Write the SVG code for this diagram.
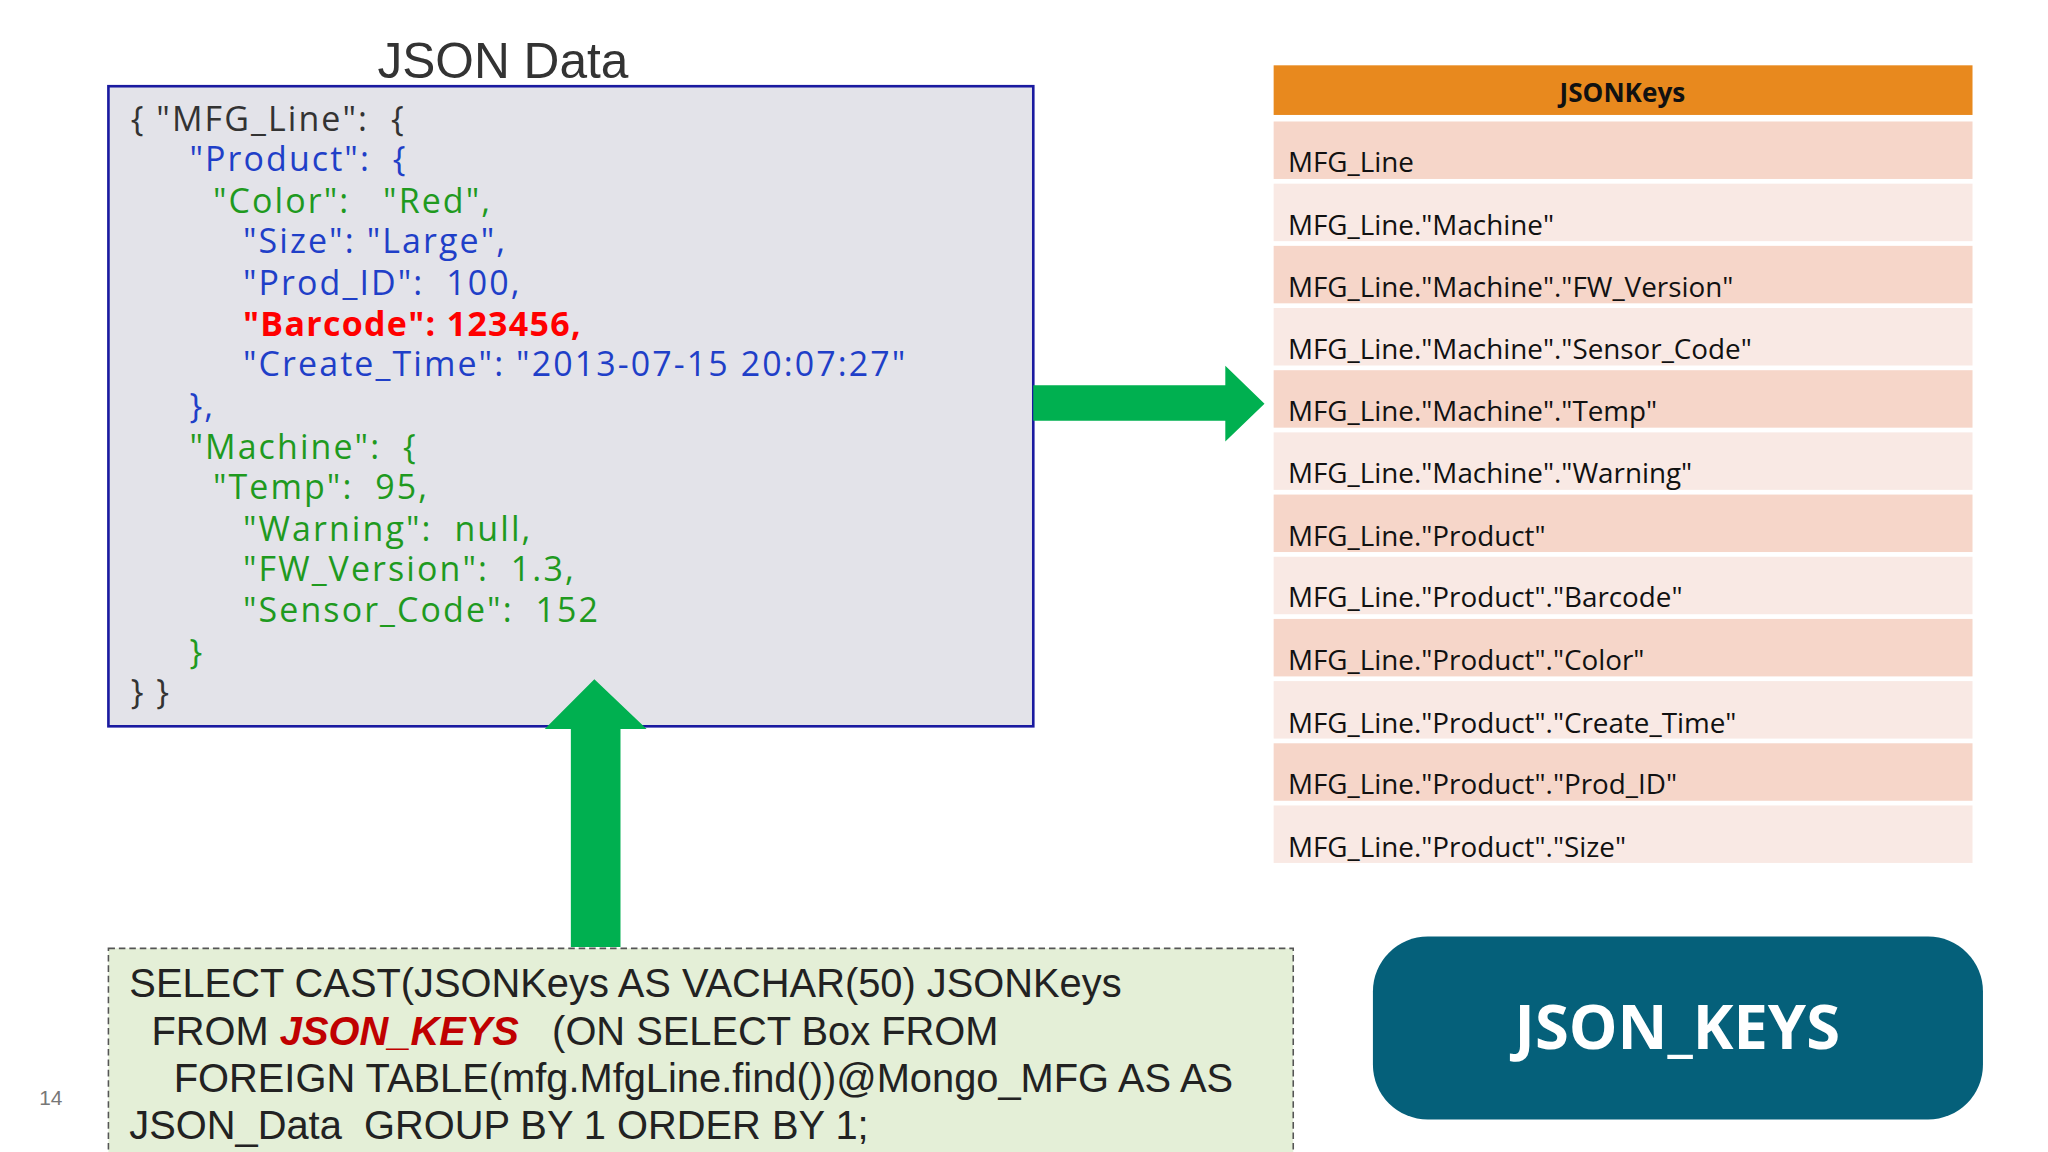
<svg xmlns="http://www.w3.org/2000/svg" width="2048" height="1152" viewBox="0 0 2048 1152">
<style>
.c{font-family:"Open Sans","DejaVu Sans",sans-serif;font-size:26px;letter-spacing:1.6px}
.g{fill:#1f9a1f}.b{fill:#1f3fc8}.k{fill:#333}
.r{font-family:"Open Sans","DejaVu Sans",sans-serif;font-size:21.3px;fill:#111}
.s{font-family:"Liberation Sans",Arial,sans-serif;font-size:30.5px;fill:#222}
.arrow{fill:#00b050}
</style>
<rect width="2048" height="1152" fill="#fff"/>
<g transform="scale(1.3063)">
<g id="json">
<text x="385" y="60" text-anchor="middle" style="font-family:'Liberation Sans',Arial,sans-serif;font-size:38px;fill:#333">JSON Data</text>
<rect x="83" y="66" width="708" height="490" fill="#e3e3e9" stroke="#1a1aa0" stroke-width="2"/>
<text class="c k" x="100" y="100" xml:space="preserve">{ "MFG_Line":  {</text>
<text class="c b" x="145" y="131" xml:space="preserve">"Product":  {</text>
<text class="c g" x="163" y="163" xml:space="preserve">"Color":   "Red",</text>
<text class="c b" x="186" y="194">"Size": "Large",</text>
<text class="c b" x="186" y="226" xml:space="preserve">"Prod_ID":  100,</text>
<text class="c" x="186" y="257" style="fill:#f00;font-weight:bold;letter-spacing:1px">"Barcode": 123456,</text>
<text class="c b" x="186" y="288">"Create_Time": "2013-07-15 20:07:27"</text>
<text class="c b" x="145" y="320">},</text>
<text class="c g" x="145" y="351" xml:space="preserve">"Machine":  {</text>
<text class="c g" x="163" y="382" xml:space="preserve">"Temp":  95,</text>
<text class="c g" x="186" y="414" xml:space="preserve">"Warning":  null,</text>
<text class="c g" x="186" y="445" xml:space="preserve">"FW_Version":  1.3,</text>
<text class="c g" x="186" y="476" xml:space="preserve">"Sensor_Code":  152</text>
<text class="c g" x="145" y="508">}</text>
<text class="c k" x="100" y="539">} }</text>
</g>
<g id="connectors">
<polygon class="arrow" points="791,295 938,295 938,280 968,309 938,338 938,322 791,322"/>
<polygon class="arrow" points="437,725 437,558 417,558 455,520 495,558 475,558 475,725"/>
</g>
<g id="table">
<rect x="975" y="50" width="535" height="38" fill="#e8891e"/>
<text x="1242" y="78" text-anchor="middle" style="font-family:'Open Sans',sans-serif;font-size:20px;font-weight:bold;fill:#111">JSONKeys</text>
<rect x="975" y="93" width="535" height="44" fill="#f6d6c9"/>
<rect x="975" y="140.6" width="535" height="44" fill="#f9e9e4"/>
<rect x="975" y="188.2" width="535" height="44" fill="#f6d6c9"/>
<rect x="975" y="235.8" width="535" height="44" fill="#f9e9e4"/>
<rect x="975" y="283.4" width="535" height="44" fill="#f6d6c9"/>
<rect x="975" y="331" width="535" height="44" fill="#f9e9e4"/>
<rect x="975" y="378.6" width="535" height="44" fill="#f6d6c9"/>
<rect x="975" y="426.2" width="535" height="44" fill="#f9e9e4"/>
<rect x="975" y="473.8" width="535" height="44" fill="#f6d6c9"/>
<rect x="975" y="521.4" width="535" height="44" fill="#f9e9e4"/>
<rect x="975" y="569" width="535" height="44" fill="#f6d6c9"/>
<rect x="975" y="616.6" width="535" height="44" fill="#f9e9e4"/>
<text class="r" x="986" y="132">MFG_Line</text>
<text class="r" x="986" y="180">MFG_Line."Machine"</text>
<text class="r" x="986" y="227">MFG_Line."Machine"."FW_Version"</text>
<text class="r" x="986" y="275">MFG_Line."Machine"."Sensor_Code"</text>
<text class="r" x="986" y="322">MFG_Line."Machine"."Temp"</text>
<text class="r" x="986" y="370">MFG_Line."Machine"."Warning"</text>
<text class="r" x="986" y="418">MFG_Line."Product"</text>
<text class="r" x="986" y="465">MFG_Line."Product"."Barcode"</text>
<text class="r" x="986" y="513">MFG_Line."Product"."Color"</text>
<text class="r" x="986" y="561">MFG_Line."Product"."Create_Time"</text>
<text class="r" x="986" y="608">MFG_Line."Product"."Prod_ID"</text>
<text class="r" x="986" y="656">MFG_Line."Product"."Size"</text>
</g>
<g id="sql">
<rect x="83" y="726" width="907" height="170" fill="#e4efd7" stroke="#555" stroke-width="1.2" stroke-dasharray="5,3"/>
<text class="s" x="99" y="763">SELECT CAST(JSONKeys AS VACHAR(50) JSONKeys</text>
<text class="s" x="116" y="800" xml:space="preserve">FROM <tspan style="fill:#c00000;font-weight:bold;font-style:italic">JSON_KEYS</tspan>   (ON SELECT Box FROM</text>
<text class="s" x="133" y="836">FOREIGN TABLE(mfg.MfgLine.find())@Mongo_MFG AS AS</text>
<text class="s" x="99" y="872" xml:space="preserve">JSON_Data  GROUP BY 1 ORDER BY 1;</text>
</g>
<g id="jsonkeys">
<rect x="1051" y="717" width="467" height="140" rx="42" fill="#05607a"/>
<text x="1284" y="803" text-anchor="middle" style="font-family:'Open Sans',sans-serif;font-size:47px;font-weight:bold;fill:#fff">JSON_KEYS</text>
</g>
<text x="30" y="846" style="font-family:'Liberation Sans',sans-serif;font-size:16px;fill:#777">14</text>
</g>
</svg>
